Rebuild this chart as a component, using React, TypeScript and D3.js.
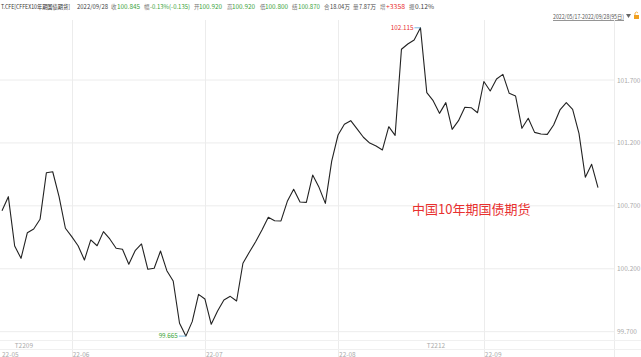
import React from "react";
import * as d3 from "d3";

const closes: number[] = [
  100.661, 100.773, 100.381, 100.283, 100.487, 100.516, 100.593, 100.963, 100.971, 100.773,
  100.522, 100.455, 100.383, 100.270, 100.429, 100.383, 100.495, 100.437, 100.363, 100.355,
  100.236, 100.344, 100.397, 100.196, 100.204, 100.341, 100.185, 100.103, 99.767, 99.665,
  99.780, 99.997, 99.960, 99.759, 99.865, 99.952, 99.981, 99.944, 100.244, 100.331,
  100.415, 100.508, 100.609, 100.582, 100.580, 100.736, 100.832, 100.731, 100.728, 100.945,
  100.847, 100.720, 101.056, 101.263, 101.348, 101.377, 101.311, 101.245, 101.199, 101.176,
  101.144, 101.329, 101.260, 101.944, 101.986, 102.018, 102.115, 101.599, 101.536, 101.435,
  101.520, 101.308, 101.377, 101.483, 101.480, 101.440, 101.688, 101.613, 101.708, 101.745,
  101.594, 101.573, 101.316, 101.396, 101.284, 101.271, 101.268, 101.342, 101.462, 101.520,
  101.467, 101.276, 100.927, 101.030, 100.845,
];

const yTicks: number[] = [99.7, 100.2, 100.7, 101.2, 101.7];
const monthLabels: string[] = ["22-05", "22-06", "22-07", "22-08", "22-09"];
const monthStartIdx: number[] = [0, 11, 32, 53, 76];
const contractLabels: string[] = ["T2209", "T2212"];
const contractIdx: number[] = [2, 67];
const title = "中国10年期国债期货";

const FONT = "'Noto Sans CJK SC', 'Noto Sans', sans-serif";

export default function App() {
  const W = 641, H = 357;
  const plotRight = 614;
  const x = d3.scaleLinear().domain([0, closes.length - 1]).range([2, 598]);
  const y = d3.scaleLinear().domain([99.7, 101.7]).range([331.7, 80]);
  const line = d3.line<number>().x((_, i) => x(i)).y((d) => y(d));

  const maxV = d3.max(closes)!;
  const minV = d3.min(closes)!;
  const maxI = closes.indexOf(maxV);
  const minI = closes.indexOf(minV);

  const green = "#3aa33a";
  const red = "#e8302f";
  const gray = "#777";

  const header: { x: number; t: string; c: string; w: number }[] = [
    { x: 1, t: "T.CFE[CFFEX10年期国债期货]", c: "#333", w: 69 },
    { x: 77, t: "2022/09/28", c: "#444", w: 31 },
    { x: 111, t: "收", c: gray, w: 5.5 },
    { x: 117, t: "100.845", c: green, w: 23 },
    { x: 144, t: "幅", c: gray, w: 5.5 },
    { x: 150, t: "-0.13%(-0.135)", c: green, w: 40 },
    { x: 194, t: "开", c: gray, w: 5.5 },
    { x: 199, t: "100.920", c: green, w: 23 },
    { x: 227, t: "高", c: gray, w: 5.5 },
    { x: 232, t: "100.920", c: green, w: 23 },
    { x: 260, t: "低", c: gray, w: 5.5 },
    { x: 265, t: "100.800", c: green, w: 23 },
    { x: 292, t: "结", c: gray, w: 5.5 },
    { x: 298, t: "100.870", c: green, w: 22 },
    { x: 324, t: "合", c: gray, w: 5.5 },
    { x: 330, t: "18.04万", c: "#444", w: 20 },
    { x: 353, t: "量", c: gray, w: 5.5 },
    { x: 359, t: "7.87万", c: "#444", w: 17 },
    { x: 380, t: "增", c: gray, w: 5.5 },
    { x: 386, t: "+3358", c: red, w: 19 },
    { x: 409, t: "振", c: gray, w: 5.5 },
    { x: 415, t: "0.12%", c: "#444", w: 19 },
  ];

  return (
    <svg width={W} height={H} style={{ position: "absolute", left: 0, top: 0, background: "#fff" }} fontFamily={FONT}>
      <rect x={0} y={0} width={W} height={H} fill="#fff" />
      {/* header */}
      {header.map((h, i) => (
        <text key={i} x={h.x} y={9} fontSize={6.2} fill={h.c} textLength={h.w} lengthAdjust="spacingAndGlyphs">{h.t}</text>
      ))}
      <text x={553} y={19} fontSize={6.2} fill="#555" textDecoration="underline" textLength={71} lengthAdjust="spacingAndGlyphs">2022/05/17-2022/09/28(95日)</text>
      <path d="M626,14 L631,14 L628.5,18 Z" fill="#666" />
      <rect x={634} y={15} width={5} height={4} fill="#f0a020" />
      <path d="M635,15 L635,13 Q636.5,11 638,13" fill="none" stroke="#f0a020" strokeWidth={0.8} />

      {/* horizontal grid */}
      {yTicks.map((t, i) => (
        <g key={i}>
          <line x1={0} x2={plotRight} y1={y(t)} y2={y(t)} stroke="#ececec" strokeWidth={1} />
          <text x={617} y={y(t) + 2.5} fontSize={6.5} fill="#aaa">{t.toFixed(3)}</text>
        </g>
      ))}
      {/* vertical grid */}
      {monthStartIdx.slice(1).map((idx, i) => (
        <line key={i} x1={Math.round(x(idx)) + 0.5} x2={Math.round(x(idx)) + 0.5} y1={20} y2={H} stroke="#ececec" />
      ))}
      <line x1={plotRight + 0.5} x2={plotRight + 0.5} y1={20} y2={H} stroke="#ececec" />
      <line x1={0} x2={W} y1={340.5} y2={340.5} stroke="#f0f0f0" />
      <line x1={0} x2={W} y1={349.5} y2={349.5} stroke="#f0f0f0" />

      {/* contract labels */}
      {contractLabels.map((c, i) => (
        <text key={i} x={x(contractIdx[i])} y={347.5} fontSize={6.5} fill="#aaa">{c}</text>
      ))}
      {/* month labels */}
      {monthLabels.map((m, i) => (
        <text key={i} x={i === 0 ? 2 : x(monthStartIdx[i]) + 1} y={356.5} fontSize={6.5} fill="#aaa">{m}</text>
      ))}

      {/* line */}
      <path d={line(closes) || ""} fill="none" stroke="#222" strokeWidth={1.1} strokeLinejoin="round" />

      {/* max label */}
      <line x1={x(maxI) - 6} x2={x(maxI)} y1={y(maxV)} y2={y(maxV)} stroke="#5aa7d8" strokeWidth={0.8} />
      <text x={x(maxI) - 7} y={y(maxV) + 2.3} fontSize={6.3} fill={red} textAnchor="end">{maxV.toFixed(3)}</text>
      {/* min label */}
      <line x1={x(minI) - 7} x2={x(minI)} y1={y(minV)} y2={y(minV)} stroke="#5aa7d8" strokeWidth={0.8} />
      <text x={x(minI) - 8} y={y(minV) + 2.3} fontSize={6.3} fill={green} textAnchor="end">{minV.toFixed(3)}</text>

      {/* title */}
      <text x={412} y={214} fontSize={13} fill={red}>{title}</text>
    </svg>
  );
}
